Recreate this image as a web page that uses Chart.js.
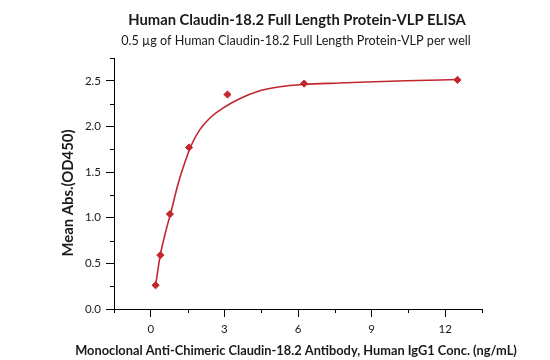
<!DOCTYPE html>
<html lang="en">
<head>
  <meta charset="utf-8">
  <title>Claudin-18.2 VLP ELISA</title>
  <script src="https://cdn.jsdelivr.net/npm/chart.js"></script>
  <style>
    body { margin: 0; background: #fff; }
    #wrap { width: 550px; height: 360px; }
  </style>
</head>
<body>
  <div id="wrap"><canvas id="elisaChart" width="550" height="360"></canvas></div>
  <script>
    // Measured points (ng/mL vs OD450)
    const conc = [0.195, 0.39, 0.78, 1.56, 3.125, 6.25, 12.5];
    const od450 = [0.26, 0.59, 1.04, 1.77, 2.35, 2.47, 2.51];

    // Fitted curve
    const fitX = [0.195, 0.39, 0.6, 0.84, 1.11, 1.38, 1.66, 2.0, 2.4, 2.94, 3.6, 4.44, 5.26, 6.24, 7.7, 8.5, 10.4, 12.5];
    const fitY = [0.26, 0.595, 0.84, 1.08, 1.37, 1.60, 1.80, 1.965, 2.09, 2.20, 2.30, 2.39, 2.435, 2.46, 2.476, 2.484, 2.50, 2.514];

    const xMajorLabels = [0, 3, 6, 9, 12];
    const yMajorLabels = [0, 0.5, 1.0, 1.5, 2.0, 2.5];

    const titleText = 'Human Claudin-18.2 Full Length Protein-VLP ELISA';
    const subText = '0.5 \u00b5g of Human Claudin-18.2 Full Length Protein-VLP per well';
    const xTitle = 'Monoclonal Anti-Chimeric Claudin-18.2 Antibody, Human IgG1 Conc. (ng/mL)';
    const yTitle = 'Mean Abs.(OD450)';

    const red = '#c1272d';
    const txt = '#1a1a1a';
    const fontFam = 'Lato, "Open Sans", sans-serif';
    const tickSize = 11.5;

    const isMajor = (v, list) => list.some(m => Math.abs(m - v) < 1e-6);

    // draw a line of text scaled to a given width
    function fitText(ctx, text, weight, width, x, y) {
      ctx.font = weight + ' 20px ' + fontFam;
      const size = 20 * width / ctx.measureText(text).width;
      ctx.font = weight + ' ' + size.toFixed(2) + 'px ' + fontFam;
      ctx.fillText(text, x, y);
    }

    // short minor ticks + titles
    const extras = {
      id: 'extras',
      afterDraw(chart) {
        const ctx = chart.ctx;
        const ca = chart.chartArea;
        const xs = chart.scales.x, ys = chart.scales.y;
        ctx.save();
        ctx.strokeStyle = '#000';
        ctx.lineWidth = 1;
        ys.ticks.forEach(t => {
          if (isMajor(t.value, yMajorLabels)) return;
          const py = Math.round(ys.getPixelForValue(t.value)) + 0.5;
          ctx.beginPath(); ctx.moveTo(ca.left - 4, py); ctx.lineTo(ca.left, py); ctx.stroke();
        });
        xs.ticks.forEach(t => {
          if (isMajor(t.value, xMajorLabels)) return;
          const px = Math.round(xs.getPixelForValue(t.value)) + 0.5;
          ctx.beginPath(); ctx.moveTo(px, ca.bottom); ctx.lineTo(px, ca.bottom + 4); ctx.stroke();
        });
        ctx.fillStyle = txt;
        ctx.textAlign = 'center';
        ctx.textBaseline = 'middle';
        fitText(ctx, titleText, 'bold', 338, 297, 20);
        fitText(ctx, subText, 'normal', 350, 296, 41);
        fitText(ctx, xTitle, 'bold', 442, 296, 351);
        ctx.translate(68, 193);
        ctx.rotate(-Math.PI / 2);
        fitText(ctx, yTitle, 'bold', 127, 0, 0);
        ctx.restore();
      }
    };

    new Chart(document.getElementById('elisaChart'), {
      type: 'scatter',
      data: {
        datasets: [
          {
            label: 'fit',
            type: 'line',
            data: fitX.map((x, i) => ({ x: x, y: fitY[i] })),
            borderColor: red,
            borderWidth: 1.6,
            pointRadius: 0,
            cubicInterpolationMode: 'monotone',
            fill: false,
            order: 2
          },
          {
            label: 'OD450',
            data: conc.map((x, i) => ({ x: x, y: od450[i] })),
            backgroundColor: red,
            borderColor: red,
            pointStyle: 'rectRot',
            pointRadius: 3.6,
            borderWidth: 1,
            order: 1
          }
        ]
      },
      options: {
        responsive: false,
        animation: false,
        layout: { padding: { top: 58, right: 68, bottom: 0, left: 0 } },
        plugins: {
          legend: { display: false },
          tooltip: { enabled: false }
        },
        scales: {
          x: {
            type: 'linear',
            min: -1.5,
            max: 13.5,
            afterFit(s) { s.height = 51; },
            border: { display: true, color: '#000', width: 1 },
            grid: {
              drawOnChartArea: false,
              tickLength: 8,
              tickColor: c => isMajor(c.tick.value, xMajorLabels) ? '#000' : 'rgba(0,0,0,0)'
            },
            ticks: {
              stepSize: 1.5,
              autoSkip: false,
              maxRotation: 0,
              padding: 5,
              color: txt,
              font: { family: fontFam, size: tickSize },
              callback: v => isMajor(v, xMajorLabels) ? String(Math.round(v)) : ''
            }
          },
          y: {
            type: 'linear',
            min: 0,
            max: 2.75,
            afterFit(s) { s.width = 114; },
            border: { display: true, color: '#000', width: 1 },
            grid: {
              drawOnChartArea: false,
              tickLength: 8,
              tickColor: c => isMajor(c.tick.value, yMajorLabels) ? '#000' : 'rgba(0,0,0,0)'
            },
            ticks: {
              stepSize: 0.25,
              autoSkip: false,
              padding: 5,
              color: txt,
              font: { family: fontFam, size: tickSize },
              callback: v => isMajor(v, yMajorLabels) ? v.toFixed(1) : ''
            }
          }
        }
      },
      plugins: [extras]
    });
  </script>
</body>
</html>
